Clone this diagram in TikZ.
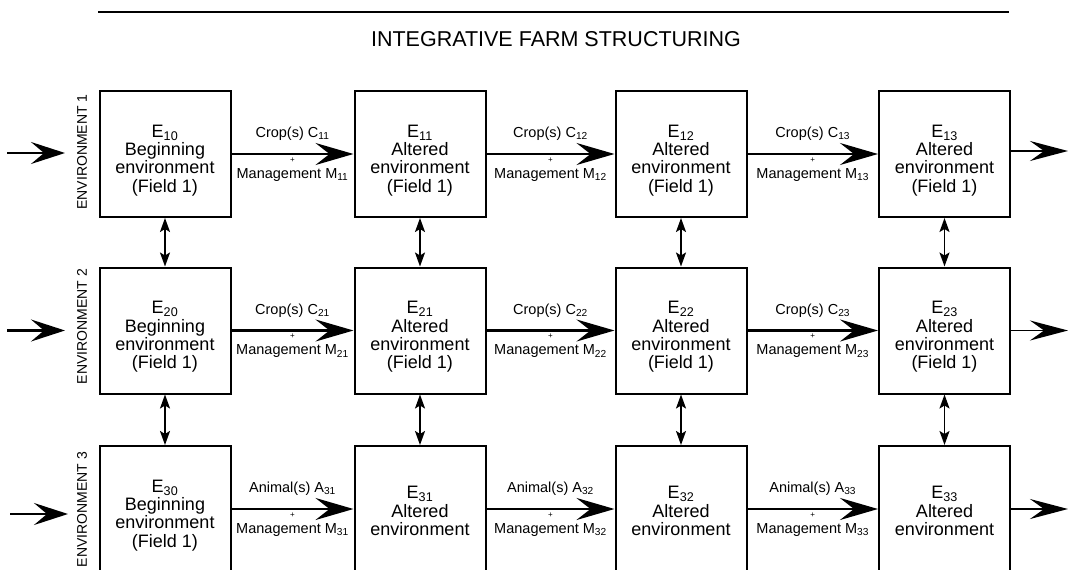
\documentclass[tikz,border=0pt]{standalone}
\usepackage{fontspec}
\setmainfont{Liberation Sans}
\usetikzlibrary{arrows.meta}
\begin{document}
\begin{tikzpicture}[x=1pt,y=-1pt,
  box/.style={draw, line width=2pt, minimum width=131pt, minimum height=126pt, inner sep=0pt},
  btext/.style={align=center, font=\fontsize{18}{18.3}\selectfont, inner sep=0pt},
  lbl/.style={font=\fontsize{14.5}{16}\selectfont, inner sep=0pt},
  plus/.style={font=\fontsize{8}{8}\selectfont, inner sep=0pt},
  env/.style={rotate=90, font=\fontsize{14}{16}\selectfont, inner sep=0pt},
  flow/.style={line width=2.8pt, -{Stealth[length=38pt,width=22pt,inset=14pt]}},
  inarrow/.style={line width=2.6pt, -{Stealth[length=34pt,width=22pt,inset=13pt]}},
  outarrow/.style={line width=1.8pt, -{Stealth[length=38pt,width=20pt,inset=14pt]}},
  link/.style={line width=1.8pt, {Stealth[length=14pt,width=10pt,inset=3pt]}-{Stealth[length=14pt,width=10pt,inset=3pt]}}
]
\useasboundingbox (0,0) rectangle (1068,570);
\clip (0,0) rectangle (1068,570);

% title
\draw[line width=2pt] (98,12) -- (1009,12);
\node[font=\fontsize{21.5}{24}\selectfont, inner sep=0pt] (title) at (556,39) {INTEGRATIVE FARM STRUCTURING};

% environment labels
\node[env] (env1) at (82,152) {ENVIRONMENT 1};
\node[env] (env2) at (82,326.5) {ENVIRONMENT 2};
\node[env] (env3) at (82,509.5) {ENVIRONMENT 3};

% boxes
\foreach \r/\y in {1/154,2/330.5,3/509}{
  \foreach \c/\x in {0/165,1/420,2/681,3/944.5}{
    \node[box] (b\r\c) at (\x,\y) {};
  }
}

% box texts
\node[btext] (t10) at (165,160.5) {E\textsubscript{10}\\Beginning\\environment\\(Field 1)};
\node[btext] (t11) at (420,160.5) {E\textsubscript{11}\\Altered\\environment\\(Field 1)};
\node[btext] (t12) at (681,160.5) {E\textsubscript{12}\\Altered\\environment\\(Field 1)};
\node[btext] (t13) at (944.5,160.5) {E\textsubscript{13}\\Altered\\environment\\(Field 1)};
\node[btext] (t20) at (165,337) {E\textsubscript{20}\\Beginning\\environment\\(Field 1)};
\node[btext] (t21) at (420,337) {E\textsubscript{21}\\Altered\\environment\\(Field 1)};
\node[btext] (t22) at (681,337) {E\textsubscript{22}\\Altered\\environment\\(Field 1)};
\node[btext] (t23) at (944.5,337) {E\textsubscript{23}\\Altered\\environment\\(Field 1)};
\node[btext] (t30) at (165,515.5) {E\textsubscript{30}\\Beginning\\environment\\(Field 1)};
\node[btext] (t31) at (420,511) {E\textsubscript{31}\\Altered\\environment};
\node[btext] (t32) at (681,511) {E\textsubscript{32}\\Altered\\environment};
\node[btext] (t33) at (944.5,511) {E\textsubscript{33}\\Altered\\environment};

% horizontal flows
\foreach \r/\w in {1/Crop(s) C,2/Crop(s) C,3/Animal(s) A}{
  \foreach \a/\b in {0/1,1/2,2/3}{
    \draw[flow] (b\r\a.east) -- node[lbl, yshift=20pt] {\w\textsubscript{\r\b}}
      node[plus, yshift=-6pt] {+}
      node[lbl, yshift=-21pt] {Management M\textsubscript{\r\b}} (b\r\b.west);
  }
}

% input arrows
\coordinate (i1s) at (7,153);   \coordinate (i1e) at (65,153);
\coordinate (i2s) at (7,330.5); \coordinate (i2e) at (65,330.5);
\coordinate (i3s) at (10,514);  \coordinate (i3e) at (68,514);
\draw[inarrow] (i1s) -- (i1e);
\draw[inarrow] (i2s) -- (i2e);
\draw[inarrow] (i3s) -- (i3e);

% output arrows
\coordinate (o1) at (1068,151);
\coordinate (o2) at (1068,330.5);
\coordinate (o3) at (1068,509);
\draw[outarrow] (b13.east |- o1) -- (o1);
\draw[outarrow] (b23.east |- o2) -- (o2);
\draw[outarrow] (b33.east |- o3) -- (o3);

% vertical links
\foreach \c in {0,1,2,3}{
  \draw[link] (b1\c.south) -- (b2\c.north);
  \draw[link] (b2\c.south) -- (b3\c.north);
}
\end{tikzpicture}
\end{document}
